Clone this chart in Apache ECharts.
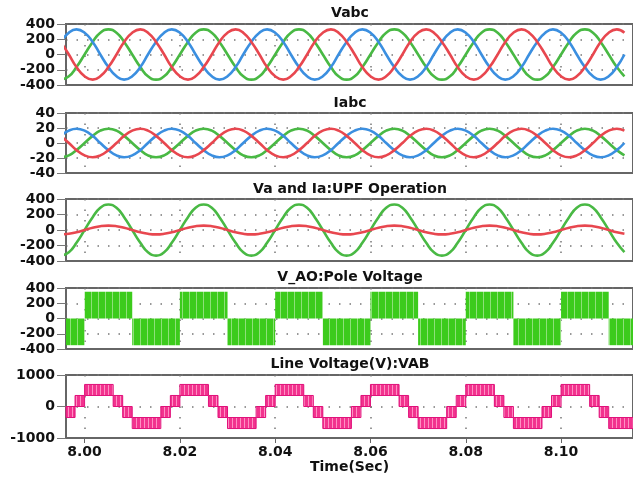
<!DOCTYPE html>
<html>
<head>
<meta charset="utf-8">
<title>Inverter waveforms</title>
<script src="https://cdn.jsdelivr.net/npm/echarts@6/dist/echarts.min.js"></script>
<style>
  html, body { margin: 0; padding: 0; background: #fff; }
  #chart { width: 633px; height: 477px; }
</style>
</head>
<body>
<div id="chart"></div>
<script>
// sample times (s), one every 30 degrees of the 50 Hz wave
const time = [
  7.9950, 7.9967, 7.9983, 8.0000, 8.0017, 8.0033, 8.0050, 8.0067, 8.0083, 8.0100, 8.0117, 8.0133,
  8.0150, 8.0167, 8.0183, 8.0200, 8.0217, 8.0233, 8.0250, 8.0267, 8.0283, 8.0300, 8.0317, 8.0333,
  8.0350, 8.0367, 8.0383, 8.0400, 8.0417, 8.0433, 8.0450, 8.0467, 8.0483, 8.0500, 8.0517, 8.0533,
  8.0550, 8.0567, 8.0583, 8.0600, 8.0617, 8.0633, 8.0650, 8.0667, 8.0683, 8.0700, 8.0717, 8.0733,
  8.0750, 8.0767, 8.0783, 8.0800, 8.0817, 8.0833, 8.0850, 8.0867, 8.0883, 8.0900, 8.0917, 8.0933,
  8.0950, 8.0967, 8.0983, 8.1000, 8.1017, 8.1033, 8.1050, 8.1067, 8.1083, 8.1100, 8.1117, 8.1133
];

// phase voltages (V)
const va = [
  -330, -286, -165, 0, 165, 286, 330, 286, 165, 0, -165, -286,
  -330, -286, -165, 0, 165, 286, 330, 286, 165, 0, -165, -286,
  -330, -286, -165, 0, 165, 286, 330, 286, 165, 0, -165, -286,
  -330, -286, -165, 0, 165, 286, 330, 286, 165, 0, -165, -286,
  -330, -286, -165, 0, 165, 286, 330, 286, 165, 0, -165, -286,
  -330, -286, -165, 0, 165, 286, 330, 286, 165, 0, -165, -286
];
const vb = [
  165, 0, -165, -286, -330, -286, -165, 0, 165, 286, 330, 286,
  165, 0, -165, -286, -330, -286, -165, 0, 165, 286, 330, 286,
  165, 0, -165, -286, -330, -286, -165, 0, 165, 286, 330, 286,
  165, 0, -165, -286, -330, -286, -165, 0, 165, 286, 330, 286,
  165, 0, -165, -286, -330, -286, -165, 0, 165, 286, 330, 286,
  165, 0, -165, -286, -330, -286, -165, 0, 165, 286, 330, 286
];
const vc = [
  165, 286, 330, 286, 165, 0, -165, -286, -330, -286, -165, 0,
  165, 286, 330, 286, 165, 0, -165, -286, -330, -286, -165, 0,
  165, 286, 330, 286, 165, 0, -165, -286, -330, -286, -165, 0,
  165, 286, 330, 286, 165, 0, -165, -286, -330, -286, -165, 0,
  165, 286, 330, 286, 165, 0, -165, -286, -330, -286, -165, 0,
  165, 286, 330, 286, 165, 0, -165, -286, -330, -286, -165, 0
];

// phase currents (A)
const ia = [
  -19, -16.5, -9.5, 0, 9.5, 16.5, 19, 16.5, 9.5, 0, -9.5, -16.5,
  -19, -16.5, -9.5, 0, 9.5, 16.5, 19, 16.5, 9.5, 0, -9.5, -16.5,
  -19, -16.5, -9.5, 0, 9.5, 16.5, 19, 16.5, 9.5, 0, -9.5, -16.5,
  -19, -16.5, -9.5, 0, 9.5, 16.5, 19, 16.5, 9.5, 0, -9.5, -16.5,
  -19, -16.5, -9.5, 0, 9.5, 16.5, 19, 16.5, 9.5, 0, -9.5, -16.5,
  -19, -16.5, -9.5, 0, 9.5, 16.5, 19, 16.5, 9.5, 0, -9.5, -16.5
];
const ib = [
  9.5, 0, -9.5, -16.5, -19, -16.5, -9.5, 0, 9.5, 16.5, 19, 16.5,
  9.5, 0, -9.5, -16.5, -19, -16.5, -9.5, 0, 9.5, 16.5, 19, 16.5,
  9.5, 0, -9.5, -16.5, -19, -16.5, -9.5, 0, 9.5, 16.5, 19, 16.5,
  9.5, 0, -9.5, -16.5, -19, -16.5, -9.5, 0, 9.5, 16.5, 19, 16.5,
  9.5, 0, -9.5, -16.5, -19, -16.5, -9.5, 0, 9.5, 16.5, 19, 16.5,
  9.5, 0, -9.5, -16.5, -19, -16.5, -9.5, 0, 9.5, 16.5, 19, 16.5
];
const ic = [
  9.5, 16.5, 19, 16.5, 9.5, 0, -9.5, -16.5, -19, -16.5, -9.5, 0,
  9.5, 16.5, 19, 16.5, 9.5, 0, -9.5, -16.5, -19, -16.5, -9.5, 0,
  9.5, 16.5, 19, 16.5, 9.5, 0, -9.5, -16.5, -19, -16.5, -9.5, 0,
  9.5, 16.5, 19, 16.5, 9.5, 0, -9.5, -16.5, -19, -16.5, -9.5, 0,
  9.5, 16.5, 19, 16.5, 9.5, 0, -9.5, -16.5, -19, -16.5, -9.5, 0,
  9.5, 16.5, 19, 16.5, 9.5, 0, -9.5, -16.5, -19, -16.5, -9.5, 0
];

// Ia as drawn next to Va in the UPF panel (scaled up)
const iaUpf = [
  -57, -49, -28.5, 0, 28.5, 49, 57, 49, 28.5, 0, -28.5, -49,
  -57, -49, -28.5, 0, 28.5, 49, 57, 49, 28.5, 0, -28.5, -49,
  -57, -49, -28.5, 0, 28.5, 49, 57, 49, 28.5, 0, -28.5, -49,
  -57, -49, -28.5, 0, 28.5, 49, 57, 49, 28.5, 0, -28.5, -49,
  -57, -49, -28.5, 0, 28.5, 49, 57, 49, 28.5, 0, -28.5, -49,
  -57, -49, -28.5, 0, 28.5, 49, 57, 49, 28.5, 0, -28.5, -49
];

// pole voltage switching envelope: [start, end, low, high]
const poleBlocks = [
  [7.990, 8.000, -350, 0], [8.000, 8.010, 0, 350],
  [8.010, 8.020, -350, 0], [8.020, 8.030, 0, 350],
  [8.030, 8.040, -350, 0], [8.040, 8.050, 0, 350],
  [8.050, 8.060, -350, 0], [8.060, 8.070, 0, 350],
  [8.070, 8.080, -350, 0], [8.080, 8.090, 0, 350],
  [8.090, 8.100, -350, 0], [8.100, 8.110, 0, 350],
  [8.110, 8.120, -350, 0]
];

// line voltage VAB switching bands: [start, end, low, high]
const lineBands = [
  [7.988, 7.990, -350, 0], [7.990, 7.996, -700, -350], [7.996, 7.998, -350, 0],
  [7.998, 8.000, 0, 350], [8.000, 8.006, 350, 700], [8.006, 8.008, 0, 350],
  [8.008, 8.010, -350, 0], [8.010, 8.016, -700, -350], [8.016, 8.018, -350, 0],
  [8.018, 8.020, 0, 350], [8.020, 8.026, 350, 700], [8.026, 8.028, 0, 350],
  [8.028, 8.030, -350, 0], [8.030, 8.036, -700, -350], [8.036, 8.038, -350, 0],
  [8.038, 8.040, 0, 350], [8.040, 8.046, 350, 700], [8.046, 8.048, 0, 350],
  [8.048, 8.050, -350, 0], [8.050, 8.056, -700, -350], [8.056, 8.058, -350, 0],
  [8.058, 8.060, 0, 350], [8.060, 8.066, 350, 700], [8.066, 8.068, 0, 350],
  [8.068, 8.070, -350, 0], [8.070, 8.076, -700, -350], [8.076, 8.078, -350, 0],
  [8.078, 8.080, 0, 350], [8.080, 8.086, 350, 700], [8.086, 8.088, 0, 350],
  [8.088, 8.090, -350, 0], [8.090, 8.096, -700, -350], [8.096, 8.098, -350, 0],
  [8.098, 8.100, 0, 350], [8.100, 8.106, 350, 700], [8.106, 8.108, 0, 350],
  [8.108, 8.110, -350, 0], [8.110, 8.116, -700, -350], [8.116, 8.118, -350, 0]
];

const xTicks = [8.00, 8.02, 8.04, 8.06, 8.08, 8.10];
const titles = ['Vabc', 'Iabc', 'Va and Ia:UPF Operation', 'V_AO:Pole Voltage', 'Line Voltage(V):VAB'];
const yMin = [-400, -40, -400, -400, -1000];
const yMax = [400, 40, 400, 400, 1000];
const yStep = [200, 20, 200, 200, 1000];

// layout of the five stacked panels
const panelTop = [24, 113, 199, 288, 375];
const panelHeight = [61, 60, 62, 61, 63];
const titleMid = [14, 104, 190, 278, 365];

const font = 'DejaVu Sans';
const dotted = { color: '#777', width: 1.5, type: [1.5, 9] };

function stripes(w, base, line) {
  const c = document.createElement('canvas');
  c.width = w; c.height = 4;
  const g = c.getContext('2d');
  g.fillStyle = base; g.fillRect(0, 0, w, 4);
  g.fillStyle = line; g.fillRect(0, 0, 1, 4);
  return { image: c, repeat: 'repeat' };
}

function bandRenderer(fill, stroke) {
  return function (params, api) {
    const a = api.coord([api.value(0), api.value(3)]);
    const b = api.coord([api.value(1), api.value(2)]);
    const cs = params.coordSys;
    const shape = echarts.graphic.clipRectByRect(
      { x: a[0], y: a[1], width: b[0] - a[0], height: b[1] - a[1] },
      { x: cs.x, y: cs.y, width: cs.width, height: cs.height });
    if (!shape) return;
    return { type: 'rect', shape: shape, style: { fill: fill, stroke: stroke, lineWidth: stroke ? 1 : 0 } };
  };
}

function wave(idx, values, color) {
  return {
    type: 'line', xAxisIndex: idx, yAxisIndex: idx,
    data: time.map((t, i) => [t, values[i]]),
    smooth: true, symbol: 'none', clip: true,
    lineStyle: { color: color, width: 2.6 }, itemStyle: { color: color }
  };
}

const green = '#49b944', red = '#e8474f', blue = '#3b8fe0';

const chart = echarts.init(document.getElementById('chart'));
chart.setOption({
  animation: false,
  backgroundColor: '#fff',
  title: titles.map((t, i) => ({
    text: t, left: 350, top: titleMid[i] - 8, textAlign: 'center', padding: 0,
    textStyle: { fontFamily: font, fontSize: 14, fontWeight: 'bold', color: '#111' }
  })),
  grid: panelTop.map((top, i) => ({
    left: 66, right: -10, top: top, height: panelHeight[i],
    show: true, borderColor: '#666', borderWidth: 2, backgroundColor: '#fff'
  })),
  xAxis: panelTop.map((_, i) => ({
    type: 'value', gridIndex: i, min: 7.9961, max: 8.1151,
    axisLine: { show: true, onZero: false, lineStyle: { color: '#666', width: 2 } },
    axisTick: { show: i === 4, customValues: xTicks, length: 5, lineStyle: { color: '#666' } },
    axisLabel: {
      show: i === 4, customValues: xTicks, margin: 7,
      formatter: v => v.toFixed(2),
      fontFamily: font, fontSize: 14, fontWeight: 'bold', color: '#111'
    },
    splitLine: { show: true, lineStyle: dotted },
    name: i === 4 ? 'Time(Sec)' : '',
    nameLocation: 'middle', nameGap: 22,
    nameTextStyle: { fontFamily: font, fontSize: 14, fontWeight: 'bold', color: '#111' }
  })),
  yAxis: panelTop.map((_, i) => ({
    type: 'value', gridIndex: i, min: yMin[i], max: yMax[i], interval: yStep[i],
    axisLine: { show: true, onZero: false, lineStyle: { color: '#666', width: 2 } },
    axisTick: { show: true, length: 9, lineStyle: { color: '#777' } },
    axisLabel: {
      margin: 11, formatter: v => String(v),
      fontFamily: font, fontSize: 14, fontWeight: 'bold', color: '#111'
    },
    splitLine: { show: true, lineStyle: dotted }
  })),
  series: [
    wave(0, va, green), wave(0, vc, blue), wave(0, vb, red),
    wave(1, ia, green), wave(1, ic, blue), wave(1, ib, red),
    wave(2, va, green), wave(2, iaUpf, red),
    {
      type: 'custom', xAxisIndex: 3, yAxisIndex: 3,
      data: poleBlocks, encode: { x: [0, 1], y: [2, 3] },
      renderItem: bandRenderer(stripes(7, '#3ccb1c', '#8fe07a'), null)
    },
    {
      type: 'custom', xAxisIndex: 4, yAxisIndex: 4,
      data: lineBands, encode: { x: [0, 1], y: [2, 3] },
      renderItem: bandRenderer(stripes(4, '#f2338e', '#ff8ec4'), '#e0107a')
    }
  ]
});
</script>
</body>
</html>
